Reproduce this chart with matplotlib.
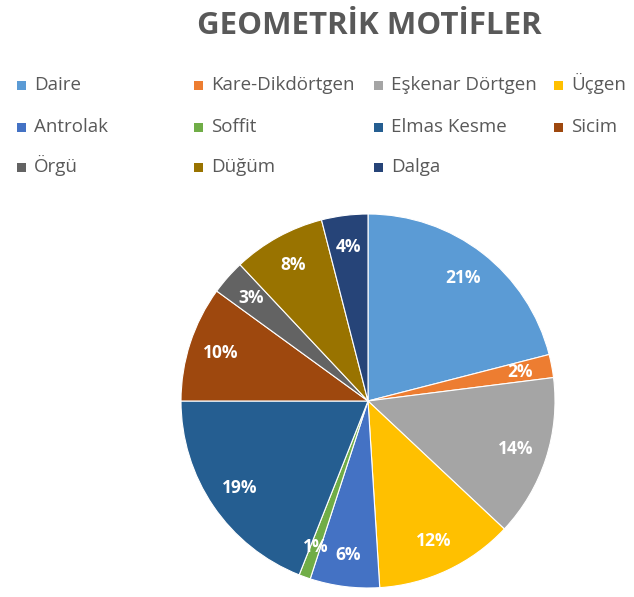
import matplotlib.pyplot as plt
from matplotlib.patches import Rectangle

plt.rcParams['font.family'] = ['Open Sans', 'DejaVu Sans']

labels = ['Daire', 'Kare-Dikdörtgen', 'Eşkenar Dörtgen', 'Üçgen', 'Antrolak', 'Soffit',
          'Elmas Kesme', 'Sicim', 'Örgü', 'Düğüm', 'Dalga']
values = [21, 2, 14, 12, 6, 1, 19, 10, 3, 8, 4]
colors = ['#5B9BD5', '#ED7D31', '#A5A5A5', '#FFC000', '#4472C4', '#70AD47',
          '#255E91', '#9E480E', '#636363', '#997300', '#264478']
title = 'GEOMETRİK MOTİFLER'

W, H = 634, 597
fig = plt.figure(figsize=(W / 100, H / 100), dpi=100)

# pie area: centre (368, 401), radius 187 px
cx, cy, r = 368, 401, 187
ax = fig.add_axes([(cx - r) / W, (H - cy - r) / H, 2 * r / W, 2 * r / H])
wedges, texts, autotexts = ax.pie(
    values, colors=colors, startangle=90, counterclock=False,
    autopct='%1.0f%%', pctdistance=0.83,
    wedgeprops=dict(edgecolor='white', linewidth=0.8),
    textprops=dict(color='white', fontsize=12.5, fontweight='bold'))
ax.set_xlim(-1, 1)
ax.set_ylim(-1, 1)
ax.set_aspect('equal')

fig.text(369 / W, 1 - 26 / H, title, ha='center', va='center',
         fontsize=22.5, fontweight='bold', color='#595959')

# legend: 4-column grid like Excel, swatch + text on a common baseline
col_x = [17, 194, 374, 554]
base_y = [90, 132, 172]
sw = 9
for i, lab in enumerate(labels):
    x, y = col_x[i % 4], base_y[i // 4]
    fig.add_artist(Rectangle((x / W, 1 - y / H), sw / W, sw / H,
                             transform=fig.transFigure, facecolor=colors[i],
                             edgecolor='none'))
    fig.text((x + sw + 8) / W, 1 - y / H, lab, ha='left', va='baseline',
             fontsize=13.5, color='#595959')

fig.savefig('out.png', dpi=100)
